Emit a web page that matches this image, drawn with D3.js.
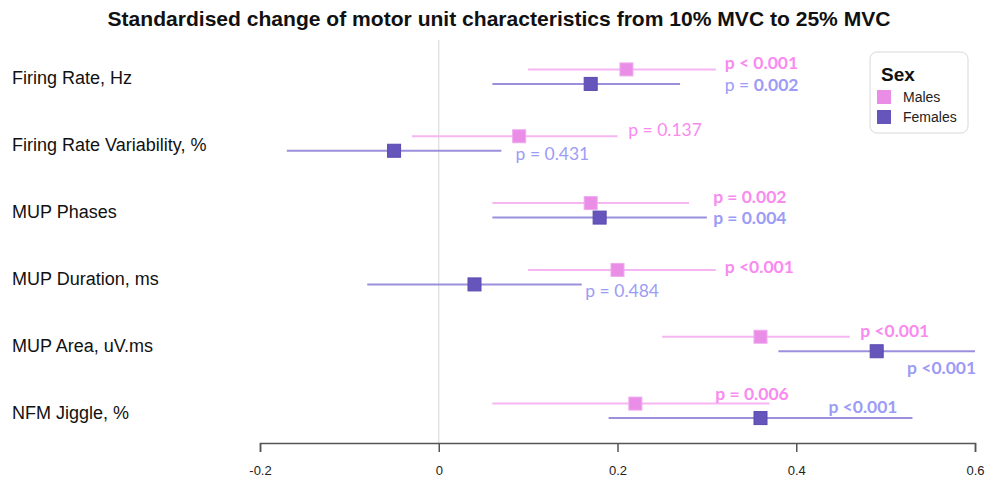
<!DOCTYPE html>
<html>
<head>
<meta charset="utf-8">
<script src="https://cdn.jsdelivr.net/npm/d3@7"></script>
<style>
  html, body { margin: 0; padding: 0; background: #fff; }
  svg { display: block; }
</style>
</head>
<body>
<svg id="chart" width="989" height="483"></svg>
<script>
// Outcome measures, top to bottom
const measures = [
  "Firing Rate, Hz",
  "Firing Rate Variability, %",
  "MUP Phases",
  "MUP Duration, ms",
  "MUP Area, uV.ms",
  "NFM Jiggle, %"
];

// Standardised change (estimate and 95% CI), males
const maleEst   = [0.21, 0.09, 0.17, 0.20, 0.36, 0.22];
const maleLow   = [0.10, -0.03, 0.06, 0.10, 0.25, 0.06];
const maleHigh  = [0.31, 0.20, 0.28, 0.31, 0.46, 0.37];

// Standardised change (estimate and 95% CI), females
const femaleEst  = [0.17, -0.05, 0.18, 0.04, 0.49, 0.36];
const femaleLow  = [0.06, -0.17, 0.06, -0.08, 0.38, 0.19];
const femaleHigh = [0.27, 0.07, 0.30, 0.16, 0.60, 0.53];

// p-values and how they are emphasised ("all", "num" = number only, "none")
const maleP       = ["p < 0.001", "p = 0.137", "p = 0.002", "p <0.001", "p <0.001", "p = 0.006"];
const maleBold    = ["all", "none", "all", "all", "all", "all"];
const femaleP     = ["p = 0.002", "p = 0.431", "p = 0.004", "p = 0.484", "p <0.001", "p <0.001"];
const femaleBold  = ["num", "none", "all", "none", "all", "all"];

// Axis ticks and their labels
const xTicks = [-0.2, 0, 0.2, 0.4, 0.6];
const xTickLabels = ["-0.2", "0", "0.2", "0.4", "0.6"];

// Placement of the p-value annotations: x in data units, vertical offset in px
const maleLabelX   = [0.320, 0.212, 0.307, 0.320, 0.4715, 0.3095];
const maleLabelDy  = [-7, -7, -7, -3, -6.5, -10.5];
const femaleLabelX  = [0.320, 0.086, 0.307, 0.164, 0.524, 0.436];
const femaleLabelDy = [0, 3, 0, 6, 16.5, -12];

const colors = {
  maleBox: "#e98de6", maleLine: "#f5b6f1", maleText: "#f98af0",
  femaleBox: "#6656bb", femaleLine: "#9a90dc", femaleText: "#9c9cf6"
};

const svg = d3.select("#chart");

const x = d3.scaleLinear().domain([-0.2, 0.6]).range([260, 975]);
const y = d3.scaleBand().domain(measures).range([43, 444]);
const rowOffset = { male: -7, female: 7.5 };

// Title
svg.append("text")
  .attr("x", 499).attr("y", 18)
  .attr("text-anchor", "middle").attr("dominant-baseline", "central")
  .attr("textLength", 783).attr("lengthAdjust", "spacingAndGlyphs")
  .style("font-family", "'Liberation Sans', Arial, sans-serif")
  .style("font-weight", "bold").style("font-size", "21px")
  .style("fill", "#111")
  .text("Standardised change of motor unit characteristics from 10% MVC to 25% MVC");

// Zero reference line
svg.append("line")
  .attr("x1", x(0)).attr("x2", x(0))
  .attr("y1", 40).attr("y2", 443)
  .attr("stroke", "#dcdcdc").attr("stroke-width", 1.2);

// X axis
const axis = svg.append("g")
  .attr("transform", "translate(0,443)")
  .call(d3.axisBottom(x).tickValues(xTicks).tickSize(9).tickPadding(14)
    .tickFormat((d, i) => xTickLabels[i]));
axis.select(".domain").attr("stroke", "#555").attr("stroke-width", 1.5);
axis.selectAll(".tick line").attr("stroke", "#555").attr("stroke-width", 1.5);
axis.selectAll(".tick text")
  .style("font-family", "'Liberation Sans', Arial, sans-serif")
  .style("font-size", "13px").style("fill", "#222");

// Measure labels
svg.append("g").selectAll("text")
  .data(measures).join("text")
  .attr("x", 12)
  .attr("y", d => y(d) + y.bandwidth() / 2 + 2)
  .attr("dominant-baseline", "central")
  .style("font-family", "'Liberation Sans', Arial, sans-serif")
  .style("font-size", "18px").style("fill", "#111")
  .text(d => d);

const rowY = (i, who) => y(measures[i]) + y.bandwidth() / 2 + rowOffset[who];

function drawSeries(who, est, low, high, lineColor, boxColor, boxStroke) {
  const g = svg.append("g");
  g.selectAll("line").data(est).join("line")
    .attr("x1", (d, i) => x(low[i])).attr("x2", (d, i) => x(high[i]))
    .attr("y1", (d, i) => rowY(i, who)).attr("y2", (d, i) => rowY(i, who))
    .attr("stroke", lineColor).attr("stroke-width", 2);
  const s = 13;
  g.selectAll("rect").data(est).join("rect")
    .attr("x", d => x(d) - s / 2)
    .attr("y", (d, i) => rowY(i, who) - s / 2)
    .attr("width", s).attr("height", s)
    .attr("fill", boxColor).attr("stroke", boxStroke).attr("stroke-width", 1);
}

drawSeries("male", maleEst, maleLow, maleHigh, colors.maleLine, colors.maleBox, "#eeaaee");
drawSeries("female", femaleEst, femaleLow, femaleHigh, colors.femaleLine, colors.femaleBox, "#5a4aae");

function drawP(who, labels, bold, lx, ldy, color) {
  const g = svg.append("g");
  labels.forEach((lab, i) => {
    const t = g.append("text")
      .attr("x", x(lx[i]))
      .attr("y", rowY(i, who) + ldy[i])
      .attr("dominant-baseline", "central")
      .style("font-family", "Lato, 'Open Sans', sans-serif")
      .style("font-size", "17.5px").style("fill", color);
    if (bold[i] === "num") {
      const cut = lab.lastIndexOf(" ") + 1;
      t.append("tspan").text(lab.slice(0, cut));
      t.append("tspan").style("font-weight", "bold").text(lab.slice(cut));
    } else {
      t.style("font-weight", bold[i] === "all" ? "bold" : "normal").text(lab);
    }
  });
}

drawP("male", maleP, maleBold, maleLabelX, maleLabelDy, colors.maleText);
drawP("female", femaleP, femaleBold, femaleLabelX, femaleLabelDy, colors.femaleText);

// Legend
const leg = svg.append("g").attr("transform", "translate(870,52)");
leg.append("rect")
  .attr("width", 98).attr("height", 81).attr("rx", 7)
  .attr("fill", "#fff").attr("stroke", "#d8d8d8").attr("stroke-width", 1);
leg.append("text")
  .attr("x", 11).attr("y", 22)
  .attr("dominant-baseline", "central")
  .style("font-family", "'Liberation Sans', Arial, sans-serif")
  .style("font-weight", "bold").style("font-size", "19px").style("fill", "#111")
  .text("Sex");
const legItems = [
  { label: "Males", color: colors.maleBox },
  { label: "Females", color: colors.femaleBox }
];
legItems.forEach((d, i) => {
  const cy = 45 + i * 20;
  leg.append("rect")
    .attr("x", 7).attr("y", cy - 7)
    .attr("width", 14).attr("height", 14)
    .attr("fill", d.color);
  leg.append("text")
    .attr("x", 33).attr("y", cy)
    .attr("dominant-baseline", "central")
    .style("font-family", "'Liberation Sans', Arial, sans-serif")
    .style("font-size", "14px").style("fill", "#222")
    .text(d.label);
});
</script>
</body>
</html>
